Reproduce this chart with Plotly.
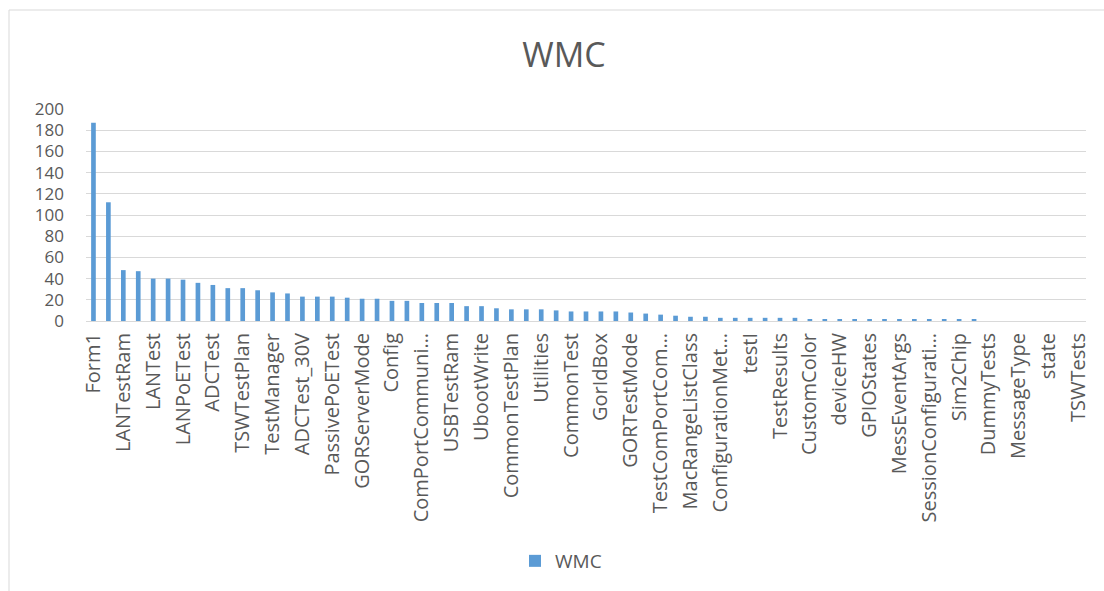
import plotly.graph_objects as go

# WMC (weighted methods per class) for each class, sorted descending
wmc_values = [
    187, 112, 48, 47, 40, 40, 39, 36, 34, 31,
    31, 29, 27, 26, 23, 23, 23, 22, 21, 21,
    19, 19, 17, 17, 17, 14, 14, 12, 11, 11,
    11, 10, 9, 9, 9, 9, 8, 7, 6, 5,
    4, 4, 3, 3, 3, 3, 3, 3, 1, 1,
    1, 1, 1, 1, 1, 1, 1, 1, 1, 1,
    0, 0, 0, 0, 0, 0, 0,
]

# class names shown on the category axis (every second class is labelled)
shown_labels = [
    "Form1", "LANTestRam", "LANTest", "LANPoETest", "ADCTest", "TSWTestPlan",
    "TestManager", "ADCTest_30V", "PassivePoETest", "GORServerMode", "Config",
    "ComPortCommuni…", "USBTestRam", "UbootWrite", "CommonTestPlan", "Utilities",
    "CommonTest", "GorIdBox", "GORTestMode", "TestComPortCom…", "MacRangeListClass",
    "ConfigurationMet…", "testI", "TestResults", "CustomColor", "deviceHW",
    "GPIOStates", "MessEventArgs", "SessionConfigurati…", "Sim2Chip", "DummyTests",
    "MessageType", "state", "TSWTests",
]

y_ticks = [0, 20, 40, 60, 80, 100, 120, 140, 160, 180, 200]

positions = list(range(len(wmc_values)))
label_positions = positions[::2]

GRID = "#D9D9D9"
TEXT = "#595959"
BLUE = "#5B9BD5"
FONT = "Open Sans"

fig = go.Figure(
    go.Bar(
        x=positions,
        y=wmc_values,
        name="WMC",
        marker=dict(color=BLUE, line=dict(width=0)),
        showlegend=True,
    )
)

W, H = 1104, 591
ml, mr, mt, mb = 86, 18, 109, 270
pw, ph = W - ml - mr, H - mt - mb

def px_x(v):
    return (v - ml) / pw

def px_y(v):
    return (H - mb - v) / ph

fig.update_layout(
    width=W,
    height=H,
    margin=dict(l=ml, r=mr, t=mt, b=mb, autoexpand=False),
    paper_bgcolor="white",
    plot_bgcolor="white",
    bargap=0.687,
    font=dict(family=FONT, color=TEXT),
    title=dict(
        text="WMC",
        font=dict(family=FONT, size=34, color=TEXT),
        x=564 / W,
        xanchor="center",
        y=1 - 55 / H,
        yanchor="middle",
        xref="container",
        yref="container",
    ),
    xaxis=dict(
        range=[-0.5, len(wmc_values) - 0.5],
        tickmode="array",
        tickvals=label_positions,
        ticktext=shown_labels,
        tickangle=-90,
        tickfont=dict(family=FONT, size=20, color=TEXT),
        showgrid=False,
        showline=True,
        linecolor=GRID,
        linewidth=1,
        ticks="",
        ticklabelstandoff=3,
        zeroline=False,
    ),
    yaxis=dict(
        range=[0, 200],
        tickmode="array",
        tickvals=y_ticks,
        tickfont=dict(family=FONT, size=17, color=TEXT),
        showgrid=True,
        gridcolor=GRID,
        gridwidth=1,
        showline=False,
        ticks="",
        ticklabelstandoff=21,
        zeroline=False,
    ),
    legend=dict(
        orientation="h",
        x=px_x(561),
        xanchor="center",
        y=px_y(561),
        yanchor="middle",
        font=dict(family=FONT, size=19, color=TEXT),
        itemwidth=30,
    ),
    shapes=[
        dict(
            type="rect",
            xref="paper",
            yref="paper",
            x0=px_x(9),
            x1=px_x(W + 20),
            y0=px_y(H + 20),
            y1=px_y(10),
            line=dict(color=GRID, width=1),
            fillcolor="rgba(0,0,0,0)",
            layer="below",
        )
    ],
)

fig.write_html("out.html")
